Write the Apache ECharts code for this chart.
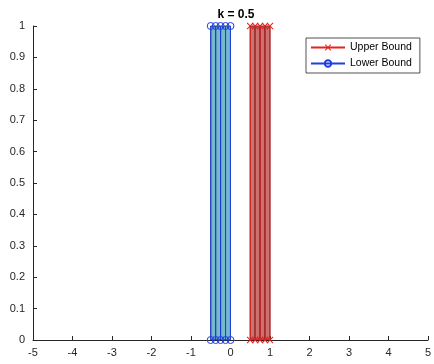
<!DOCTYPE html>
<html><head><meta charset="utf-8">
<script src="https://cdn.jsdelivr.net/npm/echarts@6/dist/echarts.min.js"></script>
<style>html,body{margin:0;padding:0;background:#fff}#c{width:434px;height:364px}</style>
</head><body><div id="c"></div>
<script>
var titleText = 'k = 0.5';
var xTicks = [-5,-4,-3,-2,-1,0,1,2,3,4,5];
var yTicks = [0,0.1,0.2,0.3,0.4,0.5,0.6,0.7,0.8,0.9,1];
var lowerX = [-0.5,-0.375,-0.25,-0.125,0];
var upperX = [0.5,0.625,0.75,0.875,1];
var yBottom = 0;
var yTop = 1;

var font = 'Liberation Sans, Arial, Helvetica, sans-serif';
var chart = echarts.init(document.getElementById('c'), null, {renderer:'canvas'});

function rects(xs){
  var d=[];
  for(var i=0;i<xs.length-1;i++) d.push([xs[i],xs[i+1],yBottom,yTop]);
  return d;
}
function rectSeries(xs, fill){
  return {
    type:'custom', silent:true, z:1,
    renderItem:function(params, api){
      var p0 = api.coord([api.value(0), api.value(3)]);
      var p1 = api.coord([api.value(1), api.value(2)]);
      return {type:'rect', shape:{x:p0[0], y:p0[1], width:p1[0]-p0[0], height:p1[1]-p0[1]},
        style:{fill:fill, stroke:'#1a1a1a', lineWidth:0.8}};
    },
    encode:{x:[0,1], y:[2,3]},
    data: rects(xs)
  };
}
var xSym = 'path://M0,1 L1,0 L5,4 L9,0 L10,1 L6,5 L10,9 L9,10 L5,6 L1,10 L0,9 L4,5Z';
var series = [rectSeries(lowerX,'#74b8cf'), rectSeries(upperX,'#cf7070')];
upperX.forEach(function(x){
  series.push({type:'line', name:'Upper Bound', data:[[x,yBottom],[x,yTop]], z:3,
    symbol:xSym, symbolSize:7, showAllSymbol:true,
    lineStyle:{color:'#e8201e', width:1}, itemStyle:{color:'#e8201e'}, animation:false});
});
lowerX.forEach(function(x){
  series.push({type:'line', name:'Lower Bound', data:[[x,yBottom],[x,yTop]], z:3,
    symbol:'circle', symbolSize:7, showAllSymbol:true,
    lineStyle:{color:'#1f3fe0', width:1}, itemStyle:{color:'transparent', borderColor:'#1f3fe0', borderWidth:1}, animation:false});
});

chart.setOption({
  animation:false,
  title:{text:titleText, left:231, top:4, textAlign:'center',
    textStyle:{fontFamily:font, fontSize:12, fontWeight:'bold', color:'#000'}},
  legend:{data:[{name:'Upper Bound'},{name:'Lower Bound'}], orient:'vertical', left:306, top:38,
    itemWidth:34, itemHeight:8, itemGap:5, padding:[4,8,4,4],
    borderColor:'#262626', borderWidth:0.8, backgroundColor:'#fff',
    textStyle:{fontFamily:font, fontSize:10.5, color:'#000'}},
  grid:{left:33, right:5, top:26, bottom:24, containLabel:false},
  xAxis:{type:'value', min:-5, max:5, interval:1,
    axisLine:{onZero:false, lineStyle:{color:'#262626'}},
    axisTick:{inside:true, length:4, lineStyle:{color:'#262626'}},
    splitLine:{show:false},
    axisLabel:{fontFamily:font, fontSize:11, color:'#262626', margin:7}},
  yAxis:{type:'value', min:0, max:1, interval:0.1,
    axisLine:{show:true, onZero:false, lineStyle:{color:'#262626'}},
    axisTick:{show:true, inside:true, length:4, lineStyle:{color:'#262626'}},
    splitLine:{show:false},
    axisLabel:{fontFamily:font, fontSize:11, color:'#262626', margin:8,
      formatter:function(v){return String(Math.round(v*10)/10);}}},
  series:series
});
</script></body></html>
